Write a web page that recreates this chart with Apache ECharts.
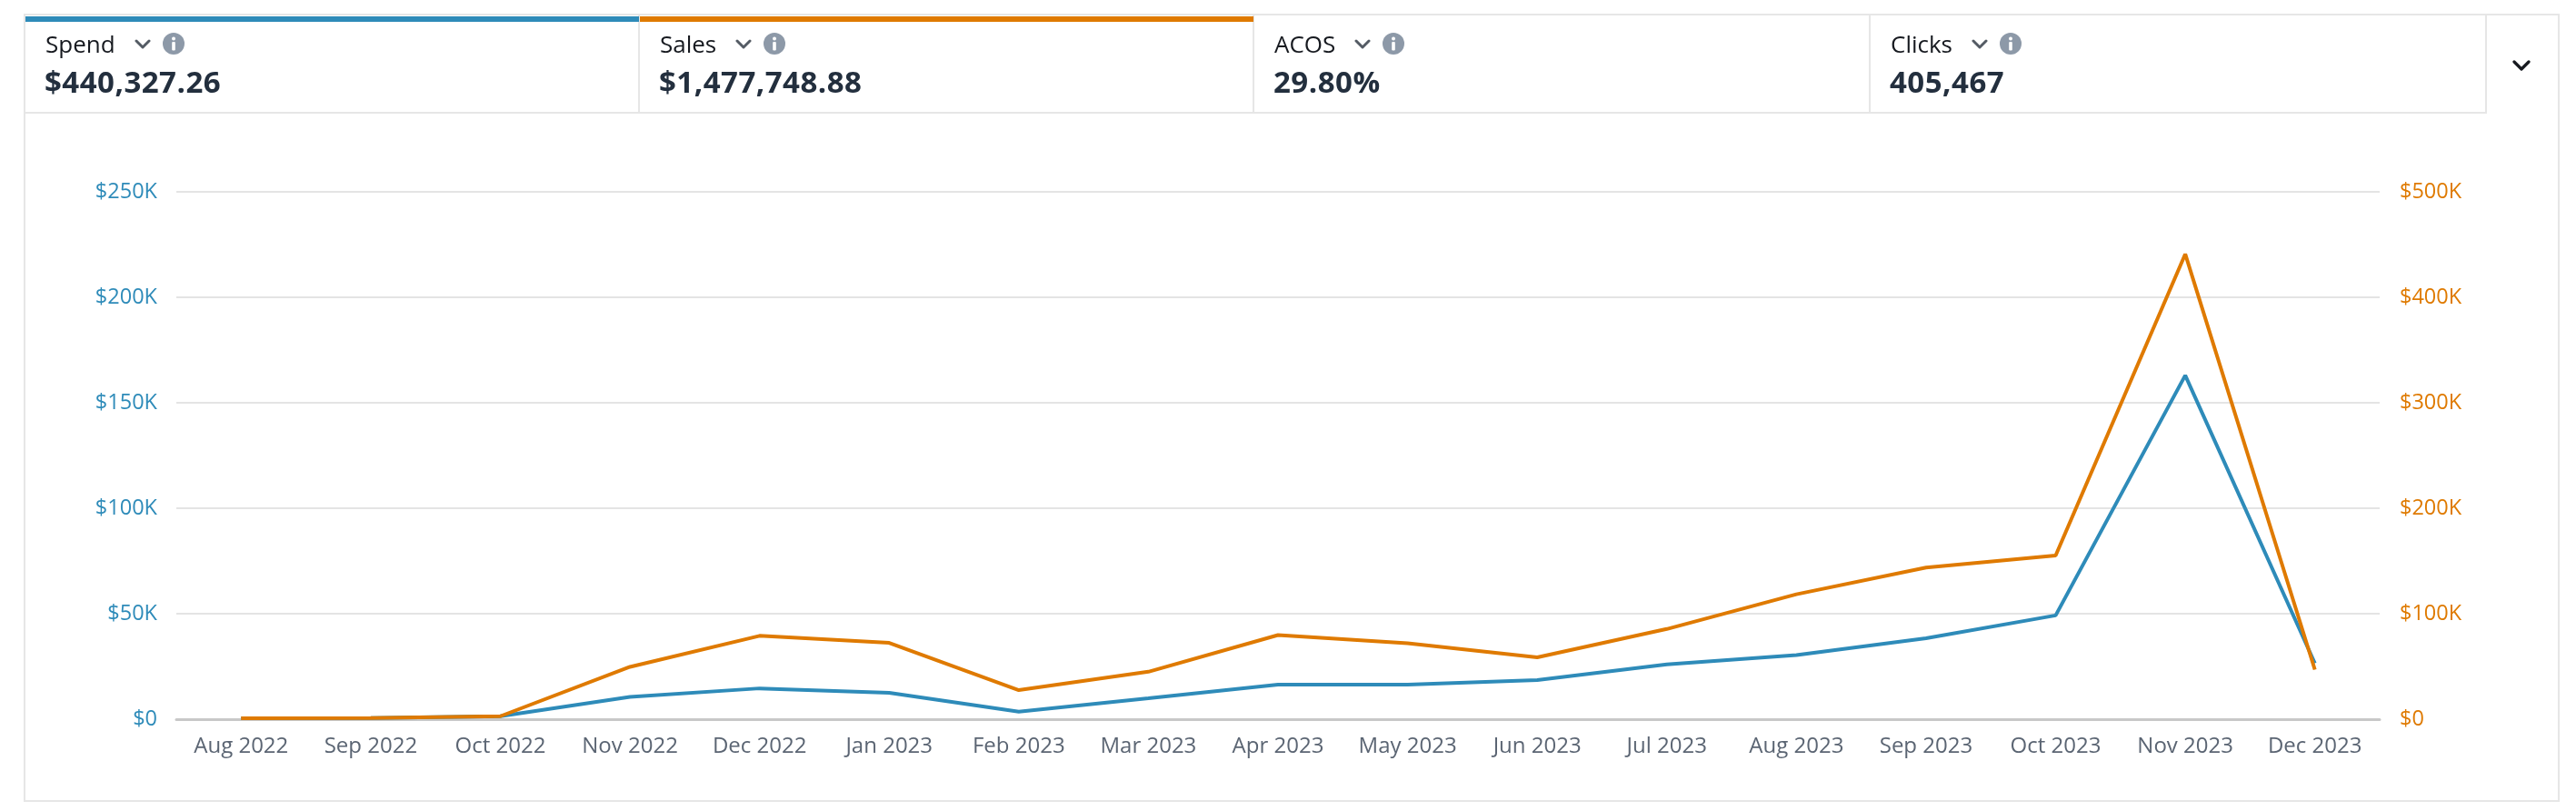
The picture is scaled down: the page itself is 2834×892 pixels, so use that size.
<!DOCTYPE html>
<html>
<head>
<meta charset="utf-8">
<script src="https://cdn.jsdelivr.net/npm/echarts@6/dist/echarts.min.js"></script>
<style>
  html, body { margin:0; padding:0; background:#fff; width:2834px; height:892px; overflow:hidden; font-family:"Open Sans", sans-serif; }
  #chart { position:absolute; left:0; top:0; width:2834px; height:892px; z-index:1; }
  .ov { position:absolute; z-index:2; }
  .lbl { position:absolute; top:33px; font-size:26px; line-height:30px; color:#16191f; white-space:nowrap; display:flex; align-items:center; }
  .val { position:absolute; top:71px; font-size:33px; line-height:38px; font-weight:700; letter-spacing:0.5px; color:#232f3e; white-space:nowrap; }
</style>
</head>
<body>
<div id="chart"></div>
<div id="overlay"></div>
<script>
// ---- data ----
const categories = ['Aug 2022','Sep 2022','Oct 2022','Nov 2022','Dec 2022','Jan 2023','Feb 2023','Mar 2023','Apr 2023','May 2023','Jun 2023','Jul 2023','Aug 2023','Sep 2023','Oct 2023','Nov 2023','Dec 2023'];
const spend = [400, 500, 1400, 10600, 14600, 12500, 3600, 9900, 16400, 16400, 18500, 26000, 30400, 38400, 49200, 163000, 26500];
const sales = [800, 1000, 2800, 49600, 79000, 72400, 27500, 45000, 79700, 71900, 58600, 85500, 118400, 143700, 155200, 441000, 47000];
const metricNames = ['Spend', 'Sales', 'ACOS', 'Clicks'];
const metricValues = ['$440,327.26', '$1,477,748.88', '29.80%', '405,467'];
const leftTicks = { min: 0, max: 250000, interval: 50000 };
const rightTicks = { min: 0, max: 500000, interval: 100000 };

const BLUE = '#2e8bb9';
const ORANGE = '#df7a00';
const BORDER = '#e6e6e6';

// ---- overlay (metric tabs and box) ----
const ov = document.getElementById('overlay');
function box(l, t, w, h, style) {
  const d = document.createElement('div');
  d.className = 'ov';
  d.style.left = l + 'px'; d.style.top = t + 'px';
  d.style.width = w + 'px'; d.style.height = h + 'px';
  Object.assign(d.style, style || {});
  ov.appendChild(d);
  return d;
}
// outer box
box(26, 15, 2790, 867, { border: '2px solid ' + BORDER, boxSizing: 'border-box', zIndex: 0 });
// tabs bottom border
box(27, 123, 2709, 2, { background: BORDER });
const tabEdges = [27, 703, 1379, 2057, 2735];
[703, 1379, 2057, 2735].forEach(x => box(x - 1, 16, 2, 109, { background: BORDER }));
// colored top bars
box(28, 18, 675, 6, { background: BLUE });
box(704, 18, 675, 6, { background: ORANGE });

const chevron = '<svg width="18" height="11" viewBox="0 0 18 11" style="margin-left:21px"><polyline points="2,2 9,9 16,2" fill="none" stroke="#545b64" stroke-width="3" stroke-linecap="round" stroke-linejoin="round"/></svg>';
const info = '<svg width="24" height="24" viewBox="0 0 24 24" style="margin-left:13px"><circle cx="12" cy="12" r="12" fill="#8d99a8"/><circle cx="12" cy="6.5" r="2" fill="#fff"/><rect x="10.2" y="10" width="3.6" height="9.5" rx="1" fill="#fff"/></svg>';
metricNames.forEach((n, i) => {
  const l = tabEdges[i];
  const lab = box(l + 23, 33, 600, 30, {});
  lab.className = 'ov lbl';
  lab.innerHTML = '<span>' + n + '</span>' + chevron + info;
  const v = box(l + 22, 71, 600, 38, {});
  v.className = 'ov val';
  v.textContent = metricValues[i];
});
// expand chevron
const ex = box(2764, 63, 20, 14, {});
ex.innerHTML = '<svg width="20" height="14" viewBox="0 0 20 14"><polyline points="2,2 10,10 18,2" fill="none" stroke="#16191f" stroke-width="3.2" stroke-linecap="round" stroke-linejoin="round"/></svg>';

// ---- chart ----
const chart = echarts.init(document.getElementById('chart'), null, { renderer: 'canvas' });
function money(v) { return v === 0 ? '$0' : '$' + (v / 1000) + 'K'; }
chart.setOption({
  animation: false,
  backgroundColor: 'transparent',
  textStyle: { fontFamily: 'Open Sans' },
  grid: { left: 194, right: 216, top: 211, bottom: 101, containLabel: false },
  xAxis: {
    type: 'category',
    data: categories,
    boundaryGap: true,
    axisLine: { show: true, lineStyle: { color: '#c8c8c8', width: 3 } },
    axisTick: { show: false },
    splitLine: { show: false },
    axisLabel: { color: '#5b6573', fontSize: 24, margin: 18, fontFamily: 'Open Sans', interval: 0 }
  },
  yAxis: [
    {
      type: 'value', position: 'left',
      min: leftTicks.min, max: leftTicks.max, interval: leftTicks.interval,
      axisLine: { show: false }, axisTick: { show: false },
      splitLine: { show: true, lineStyle: { color: '#e4e4e4', width: 2 } },
      axisLabel: { color: BLUE, fontSize: 23.5, margin: 21, formatter: money, fontFamily: 'Open Sans' }
    },
    {
      type: 'value', position: 'right',
      min: rightTicks.min, max: rightTicks.max, interval: rightTicks.interval,
      axisLine: { show: false }, axisTick: { show: false },
      splitLine: { show: false },
      axisLabel: { color: ORANGE, fontSize: 23.5, margin: 22, formatter: money, fontFamily: 'Open Sans' }
    }
  ],
  series: [
    {
      name: 'Spend', type: 'line', yAxisIndex: 0, data: spend,
      symbol: 'none', smooth: false,
      lineStyle: { color: BLUE, width: 4 }, itemStyle: { color: BLUE }, z: 3
    },
    {
      name: 'Sales', type: 'line', yAxisIndex: 1, data: sales,
      symbol: 'none', smooth: false,
      lineStyle: { color: ORANGE, width: 4 }, itemStyle: { color: ORANGE }, z: 4
    }
  ]
});
</script>
</body>
</html>
